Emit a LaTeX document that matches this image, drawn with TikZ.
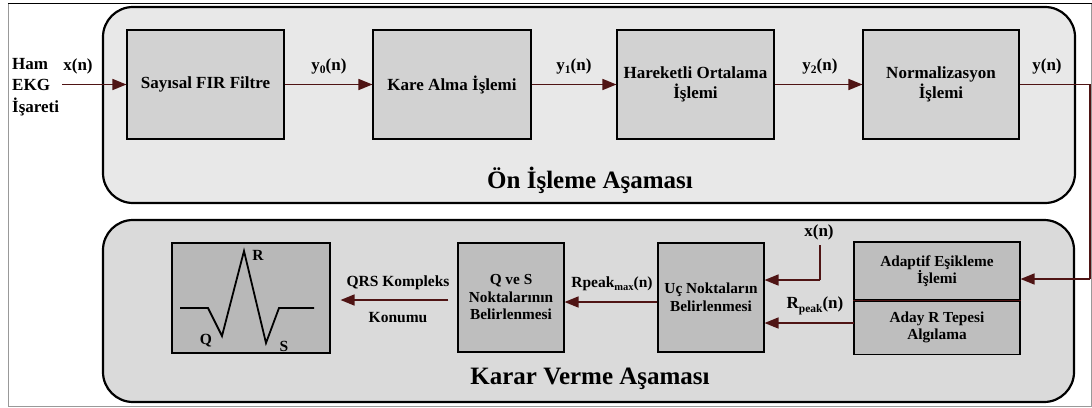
\documentclass[tikz,border=0pt]{standalone}
\usepackage{fontspec}
\setmainfont{Liberation Serif}[BoldFont={Liberation Serif Bold}]
\usetikzlibrary{arrows.meta}
\definecolor{wire}{HTML}{4F1414}
\definecolor{panelA}{HTML}{E8E8E8}
\definecolor{panelB}{HTML}{DADADA}
\definecolor{boxA}{HTML}{D2D2D2}
\definecolor{boxB}{HTML}{BEBEBE}
\definecolor{ecgfill}{HTML}{B8B8B8}
\newcommand{\sub}[1]{\raisebox{-0.45ex}{\fontsize{11.5}{11.5}\selectfont\bfseries #1}}
\newcommand{\subs}[1]{\raisebox{-0.45ex}{\fontsize{10.5}{10.5}\selectfont\bfseries #1}}
\begin{document}
\begin{tikzpicture}[x=1pt,y=-1pt,
  font=\bfseries\fontsize{17}{19.5}\selectfont,
  panel/.style={draw=black,line width=2.2pt,rounded corners=30pt},
  blockA/.style={draw=black,line width=1.1pt,fill=boxA,minimum height=109pt,align=center,inner sep=2pt},
  blockB/.style={draw=black,line width=1.1pt,fill=boxB,align=center,inner sep=1pt,
    font=\bfseries\fontsize{15.3}{17.5}\selectfont},
  wireline/.style={draw=wire,line width=1.6pt},
  flow/.style={wireline,-{Triangle[length=14pt,width=11pt]}},
  lbl/.style={inner sep=0pt},
  slbl/.style={inner sep=0pt,font=\bfseries\fontsize{15.5}{17.5}\selectfont}]
\useasboundingbox (0,0) rectangle (1092,407);
% outer frame
\draw[gray!80,line width=1pt] (8,3.5) rectangle (1091.5,406);
\draw[black,line width=1pt] (8,3.5) -- (1091.5,3.5);

% pre-processing stage
\draw[panel,fill=panelA] (103,7) rectangle (1075,203);
\node[lbl,font=\bfseries\fontsize{25}{28}\selectfont] (titleA) at (590,180) {Ön İşleme Aşaması};

\node[blockA,minimum width=157pt] (fir)  at (205.5,84.5) {Sayısal FIR Filtre};
\node[blockA,minimum width=158pt] (sq)   at (452,84.5) {Kare Alma İşlemi};
\node[blockA,minimum width=157pt] (ma)   at (695.5,84.5) {Hareketli Ortalama\\İşlemi};
\node[blockA,minimum width=156pt] (norm) at (941,84.5) {Normalizasyon\\İşlemi};

\node[lbl,align=left,font=\bfseries\fontsize{17}{21.5}\selectfont,anchor=west] (src) at (12,87) {Ham\\EKG\\İşareti};
\coordinate (xin) at (62,84.5);
\node[lbl] (xlab) at (78,66) {x(n)};
\node[lbl] (y0lab) at (329,66) {y\sub{0}(n)};
\node[lbl] (y1lab) at (574,66) {y\sub{1}(n)};
\node[lbl] (y2lab) at (820,66) {y\sub{2}(n)};
\node[lbl] (ylab) at (1047,66) {y(n)};

\draw[flow] (xin) -- (fir.west);
\draw[flow] (fir) -- (sq);
\draw[flow] (sq) -- (ma);
\draw[flow] (ma) -- (norm);

% decision stage
\draw[panel,fill=panelB] (103,220) rectangle (1074,402);
\node[lbl,font=\bfseries\fontsize{25}{28}\selectfont] (titleB) at (590,379) {Karar Verme Aşaması};

\node[blockB,minimum width=166pt,minimum height=58pt] (adth) at (937,271) {Adaptif Eşikleme\\İşlemi};
\node[blockB,minimum width=166pt,minimum height=53pt,anchor=north] (cand) at (adth.south) {Aday R Tepesi\\Algılama};
\draw[draw=black,line width=1.1pt] (adth.north west) rectangle (cand.south east);
\draw[wire,line width=1.2pt] (adth.south west) -- (adth.south east);

\node[blockB,minimum width=106pt,minimum height=109pt] (uc) at (711,297.5) {Uç Noktaların\\Belirlenmesi};
\node[blockB,minimum width=106pt,minimum height=109pt] (qs) at (511,297.5) {Q ve S\\Noktalarının\\Belirlenmesi};
\node[blockB,fill=ecgfill,minimum width=158pt,minimum height=110pt] (ecg) at (251,298) {};

% QRS sketch
\draw[black,line width=1.8pt,line join=miter] (180,308) -- (208,308) -- (222,336) -- (244,251) -- (266,343) -- (279,308) -- (314,308);
\node[slbl] (rl) at (258,255) {R};
\node[slbl] (ql) at (206,341) {Q};
\node[slbl] (sl) at (284,346) {S};

% feedback from normalisation into thresholding
\coordinate (turn1) at (1090,84.5);
\coordinate (turn2) at (1090,279);
\draw[wireline] (norm.east) -- (turn1) -- (turn2);
\draw[flow] (turn2) -- (turn2 -| adth.east);

% raw signal into peak search
\coordinate (xtop) at (820,245);
\coordinate (xbend) at (820,280);
\node[lbl] (xlab2) at (819,232) {x(n)};
\draw[wireline] (xtop) -- (xbend);
\draw[flow] (xbend) -- (xbend -| uc.east);

\coordinate (rp) at (854,323);
\draw[flow] (rp) -- (rp -| uc.east);
\node[lbl] (rplab) at (815,306) {R\sub{peak}(n)};

\draw[flow] (uc.west |- 0,302) -- (qs.east |- 0,302);
\node[slbl] (rmlab) at (612,284) {Rpeak\subs{max}(n)};

\draw[flow,shorten <=9pt,shorten >=10pt] (qs.west |- 0,300) -- (ecg.east |- 0,300);
\node[slbl] (qrslab) at (398,283) {QRS Kompleks};
\node[slbl] (konlab) at (398,318) {Konumu};
\end{tikzpicture}
\end{document}
